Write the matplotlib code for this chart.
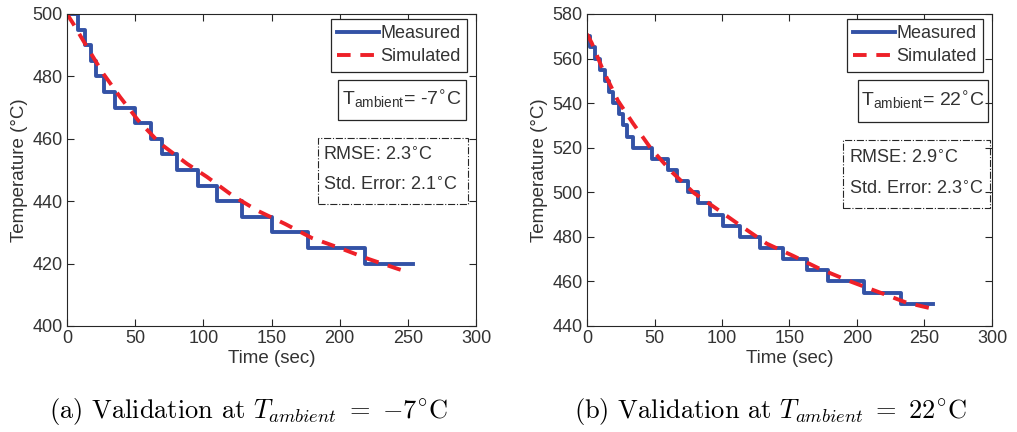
import matplotlib
matplotlib.use('Agg')
import matplotlib.pyplot as plt
from matplotlib.patches import Rectangle

# --- data ---
# measured: step start times (sec) and temperatures (degC), last entry = end of record
t_meas_a = [0, 8, 13, 17.6, 21, 27, 35, 50, 61.5, 70, 81, 96, 110, 128, 150, 177, 218.5, 254]
T_meas_a = [500, 495, 490, 485, 480, 475, 470, 465, 460, 455, 450, 445, 440, 435, 430, 425, 420, 420]
t_sim_a = [0, 4.4, 14.7, 26.4, 38.9, 52, 68, 88, 102.6, 121.7, 140, 160, 179.6, 200, 221, 242.6, 250]
T_sim_a = [500, 497, 489.4, 481, 473.4, 466, 458.6, 452, 447.8, 441.7, 436.9, 432.7, 428.2, 425, 421.5, 418.3, 417.3]

t_meas_b = [0, 2, 6, 9.6, 13.3, 16.3, 19.3, 23.7, 26.7, 29.6, 34, 48, 60, 66.7, 74.8, 82, 91,
            100.7, 113.3, 128, 145, 163, 178.5, 205, 232.6, 256]
T_meas_b = [570, 565, 560, 555, 550, 545, 540, 535, 530, 525, 520, 515, 510, 505, 500, 495, 490,
            485, 480, 475, 470, 465, 460, 455, 450, 450]
t_sim_b = [0, 3.5, 12, 23, 34, 47.5, 63, 79, 96, 115, 133, 152.6, 172.6, 195, 217, 237, 257]
T_sim_b = [571, 567, 554.6, 541, 531, 519.5, 509, 499.8, 492.6, 484.5, 477, 471.5, 465.6, 460, 455, 450.4, 447.6]

ambient = ['-7', '22']
rmse = ['2.3', '2.9']
std_err = ['2.1', '2.3']
captions = [r'(a) Validation at $T_{ambient}\ =\ {-}7^{\circ}\mathrm{C}$',
            r'(b) Validation at $T_{ambient}\ =\ 22^{\circ}\mathrm{C}$']
ylims = [(400, 500), (440, 580)]

plt.rcParams['font.family'] = ['Liberation Sans', 'DejaVu Sans']
plt.rcParams['font.size'] = 12

blue = '#3352a6'
red = '#ee2028'
axcol = '#262626'
txtcol = '#333333'

fig = plt.figure(figsize=(10.17, 4.32), dpi=100)
ax1 = fig.add_axes([0.0659, 0.2454, 0.4022, 0.7222])
ax2 = fig.add_axes([0.5772, 0.2454, 0.3982, 0.7222])

panels = [(ax1, t_meas_a, T_meas_a, t_sim_a, T_sim_a),
          (ax2, t_meas_b, T_meas_b, t_sim_b, T_sim_b)]

# box positions in axes coords: (tamb box), (rmse box), rmse text x
boxes = [((0.663, 0.660, 0.313, 0.128), (0.614, 0.391, 0.366, 0.212), 0.627),
         ((0.669, 0.654, 0.321, 0.134), (0.632, 0.378, 0.363, 0.218), 0.647)]

for i, (ax, tm, Tm, ts, Ts) in enumerate(panels):
    ax.plot(tm, Tm, color=blue, lw=2.8, drawstyle='steps-post', label='Measured')
    ax.plot(ts, Ts, color=red, lw=2.8, ls=(0, (3.5, 2.5)), label='Simulated')
    ax.set_xlim(0, 300)
    ax.set_ylim(*ylims[i])
    ax.set_xlabel('Time (sec)', color=txtcol, fontsize=13.5, labelpad=2)
    ax.set_ylabel('Temperature (\u00b0C)', color=txtcol, fontsize=13.5, labelpad=3)
    ax.tick_params(direction='in', top=True, right=True, length=5, colors=axcol,
                   labelcolor=txtcol, labelsize=13, pad=3)
    for s in ax.spines.values():
        s.set_color(axcol)
        s.set_linewidth(0.8)

    leg = ax.legend(loc='upper right', bbox_to_anchor=(0.978, 0.985), fancybox=False,
                    framealpha=1, edgecolor=axcol, handlelength=2.3, handletextpad=0.1,
                    borderpad=0.35, labelspacing=0.35, borderaxespad=0, fontsize=13)
    leg.get_frame().set_linewidth(0.9)
    for t in leg.get_texts():
        t.set_color(txtcol)

    tb, rb, rx = boxes[i]
    ax.add_patch(Rectangle(tb[:2], tb[2], tb[3], transform=ax.transAxes, fill=False,
                           ec=axcol, lw=0.9, clip_on=False))
    ax.text(tb[0] + tb[2] / 2, tb[1] + tb[3] / 2,
            r'T$_{\mathregular{ambient}}$= ' + ambient[i] + r'$^{\circ}$C',
            transform=ax.transAxes, ha='center', va='center', fontsize=14, color=txtcol)
    ax.add_patch(Rectangle(rb[:2], rb[2], rb[3], transform=ax.transAxes, fill=False,
                           ec=axcol, lw=0.8, ls='-.', clip_on=False))
    ax.text(rx, rb[1] + rb[3] * 0.73, 'RMSE: ' + rmse[i] + r'$^{\circ}$C',
            transform=ax.transAxes, ha='left', va='center', fontsize=13, color=txtcol)
    ax.text(rx, rb[1] + rb[3] * 0.28, 'Std. Error: ' + std_err[i] + r'$^{\circ}$C',
            transform=ax.transAxes, ha='left', va='center', fontsize=13, color=txtcol)

fig.text(0.2445, 0.048, captions[0], ha='center', va='center', fontsize=19,
         family=['cmr10', 'DejaVu Serif'], math_fontfamily='cm')
fig.text(0.757, 0.048, captions[1], ha='center', va='center', fontsize=19,
         family=['cmr10', 'DejaVu Serif'], math_fontfamily='cm')

fig.savefig('out.png', dpi=100)
